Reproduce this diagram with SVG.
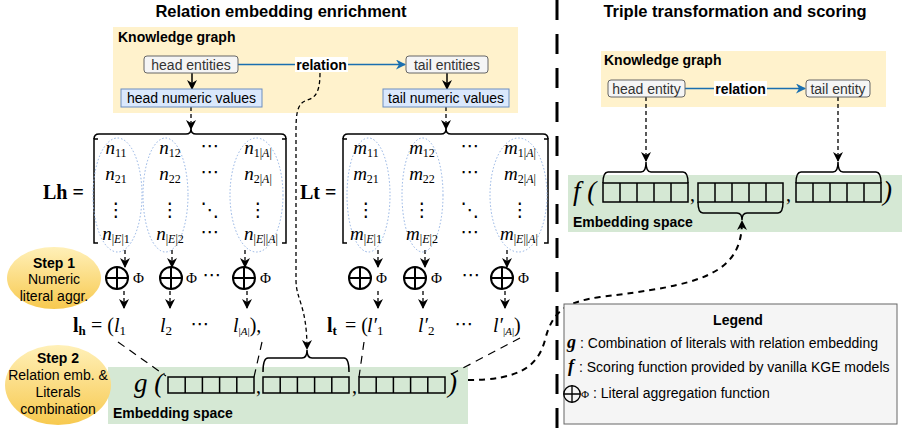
<svg xmlns="http://www.w3.org/2000/svg" width="902" height="430" viewBox="0 0 902 430">
<style>
.sans{font-family:"Liberation Sans",Arial,sans-serif;font-size:14px;fill:#000}
.b{font-weight:bold}
.ent{fill:#f5f5f5;stroke:#666;stroke-width:1}
.entt{font-family:"Liberation Sans",Arial,sans-serif;font-size:14px;fill:#333}
.num{fill:#dae8fc;stroke:#6c8ebf;stroke-width:1}
.m{font-family:"Liberation Serif","DejaVu Serif",serif;font-style:italic;font-size:19px;fill:#000}
.sb{font-style:normal;font-size:12px}
.it{font-style:italic}
.dots{font-family:"DejaVu Sans",sans-serif;font-size:19px;fill:#000}
.mb{font-family:"Liberation Serif","DejaVu Serif",serif;font-weight:bold;font-size:20px;fill:#000}
.phi{font-family:"Liberation Serif","DejaVu Serif",serif;font-size:15px;fill:#000}
.big{font-family:"Liberation Serif","DejaVu Serif",serif;font-style:italic;font-size:27px;fill:#000}
.ell{fill:none;stroke:#8fb0e3;stroke-width:1;stroke-dasharray:1.5 2}
.br{fill:none;stroke:#000;stroke-width:1.5}
.vec{fill:none;stroke:#000;stroke-width:1.5}
.op{fill:none;stroke:#000;stroke-width:2}
.da{fill:none;stroke:#000;stroke-width:1.3;stroke-dasharray:4 3}
.ld{fill:none;stroke:#000;stroke-width:1.2;stroke-dasharray:8 6}
.blue{fill:none;stroke:#1a6fb0;stroke-width:1.5}
</style>
<defs>
<marker id="ah" markerWidth="10" markerHeight="10" refX="9" refY="5" orient="auto" markerUnits="userSpaceOnUse">
<path d="M0,0 L10,5 L0,10 L3,5 z" fill="#000"/>
</marker>
<marker id="ahb" markerWidth="10" markerHeight="10" refX="9" refY="5" orient="auto" markerUnits="userSpaceOnUse">
<path d="M0,0 L10,5 L0,10 L3,5 z" fill="#1a6fb0"/>
</marker>
<linearGradient id="stepg" x1="0" y1="0" x2="0" y2="1">
<stop offset="0" stop-color="#fff0b8"/>
<stop offset="1" stop-color="#f7c94f"/>
</linearGradient>
<g id="oplus"><circle cx="0" cy="0" r="11" class="op"/><path d="M-11,0 H11 M0,-11 V11" class="op"/></g>
</defs>

<!-- titles -->
<text class="sans b" x="281" y="17" text-anchor="middle" style="font-size:16.5px">Relation embedding enrichment</text>
<text class="sans b" x="735" y="17" text-anchor="middle" style="font-size:16.5px">Triple transformation and scoring</text>

<!-- separator -->
<line x1="557" y1="0" x2="557" y2="430" stroke="#000" stroke-width="3" stroke-dasharray="20 14"/>

<!-- left knowledge graph -->
<g id="kg-left">
<rect x="113" y="27" width="405" height="86" fill="#fff2cc"/>
<text class="sans b" x="118" y="42">Knowledge graph</text>
</g>
<g id="kg-right">
<rect x="601" y="51" width="285" height="56" fill="#fff2cc"/>
<text class="sans b" x="604" y="65">Knowledge graph</text>
</g>
<g id="emb-left">
<rect x="108" y="367" width="360" height="57" fill="#d5e8d4"/>
<text class="sans b" x="113" y="418">Embedding space</text>
</g>
<g id="emb-right">
<rect x="568" y="175" width="334" height="57" fill="#d5e8d4"/>
<text class="sans b" x="573" y="227">Embedding space</text>
</g>

<!-- connectors -->
<g id="connectors">
<line x1="238" y1="64.5" x2="405" y2="64.5" class="blue" marker-end="url(#ahb)"/>
<line x1="685" y1="88.5" x2="805" y2="88.5" class="blue" marker-end="url(#ahb)"/>
<line x1="192" y1="73" x2="192" y2="89" stroke="#000" stroke-width="1.5" marker-end="url(#ah)"/>
<line x1="447" y1="73" x2="447" y2="89" stroke="#000" stroke-width="1.5" marker-end="url(#ah)"/>
<line x1="191" y1="107" x2="191" y2="129" class="da" marker-end="url(#ah)"/>
<line x1="446" y1="107" x2="446" y2="129" class="da" marker-end="url(#ah)"/>
<path d="M320,73 C320,98 312,98 305,101 C298,104 296,112 296,130 L296,280 C296,300 307,305 307,349" class="da" marker-end="url(#ah)"/>
<line x1="646" y1="97" x2="646" y2="161" class="da" marker-end="url(#ah)"/>
<line x1="838" y1="97" x2="838" y2="161" class="da" marker-end="url(#ah)"/>
<!-- matrix to aggregation -->
<line x1="125" y1="250" x2="125" y2="267" class="da" marker-end="url(#ah)"/>
<line x1="172" y1="250" x2="172" y2="267" class="da" marker-end="url(#ah)"/>
<line x1="245" y1="250" x2="245" y2="267" class="da" marker-end="url(#ah)"/>
<line x1="378" y1="250" x2="378" y2="267" class="da" marker-end="url(#ah)"/>
<line x1="425" y1="250" x2="425" y2="267" class="da" marker-end="url(#ah)"/>
<line x1="507" y1="250" x2="507" y2="267" class="da" marker-end="url(#ah)"/>
<line x1="124" y1="291" x2="124" y2="308" class="da" marker-end="url(#ah)"/>
<line x1="170" y1="291" x2="170" y2="308" class="da" marker-end="url(#ah)"/>
<line x1="247" y1="291" x2="247" y2="308" class="da" marker-end="url(#ah)"/>
<line x1="378" y1="291" x2="378" y2="308" class="da" marker-end="url(#ah)"/>
<line x1="423" y1="291" x2="423" y2="308" class="da" marker-end="url(#ah)"/>
<line x1="505" y1="291" x2="505" y2="308" class="da" marker-end="url(#ah)"/>
<!-- literal rows to g vectors -->
<line x1="118" y1="342" x2="166" y2="376" class="ld"/>
<line x1="262" y1="342" x2="254" y2="377" class="ld"/>
<line x1="364" y1="342" x2="359" y2="377" class="ld"/>
<line x1="520" y1="338" x2="446" y2="377" class="ld"/>
<!-- g to f -->
<path d="M468,380 C520,380 538,366 545,340 C552,312 565,302 600,297 C700,285 742,275 742,221" fill="none" stroke="#000" stroke-width="2" stroke-dasharray="6 5" marker-end="url(#ah)"/>
</g>

<!-- entity nodes -->
<g id="head-entities"><rect x="144" y="56" width="94" height="17" rx="3" class="ent"/><text class="entt" x="191" y="69.5" text-anchor="middle">head entities</text></g>
<g id="tail-entities"><rect x="406" y="56" width="82" height="17" rx="3" class="ent"/><text class="entt" x="447" y="69.5" text-anchor="middle">tail entities</text></g>
<g id="relation-left"><rect x="295" y="57" width="53" height="15" fill="#fff"/><text class="sans b" x="321.5" y="69.5" text-anchor="middle">relation</text></g>
<g id="head-numeric"><rect x="121" y="89" width="141" height="18" class="num"/><text class="sans" x="191.5" y="103" text-anchor="middle">head numeric values</text></g>
<g id="tail-numeric"><rect x="383" y="89" width="126" height="18" class="num"/><text class="sans" x="446" y="103" text-anchor="middle">tail numeric values</text></g>

<g id="head-entity"><rect x="608" y="80" width="77" height="17" rx="3" class="ent"/><text class="entt" x="646.5" y="93.5" text-anchor="middle">head entity</text></g>
<g id="tail-entity"><rect x="806" y="80" width="64" height="17" rx="3" class="ent"/><text class="entt" x="838" y="93.5" text-anchor="middle">tail entity</text></g>
<g id="relation-right"><rect x="714" y="81" width="53" height="15" fill="#fff"/><text class="sans b" x="740.5" y="93.5" text-anchor="middle">relation</text></g>

<!-- Lh matrix -->
<g id="matrix-lh">
<path d="M94,139 Q94,134 99,134 L186,134 Q191,134 191,129 Q191,134 196,134 L281,134 Q286,134 286,139" class="br"/>
<path d="M98,139 H94 V243 H98" class="br"/>
<path d="M282,139 H286 V243 H282" class="br"/>
<ellipse cx="117.5" cy="195" rx="24.5" ry="57" class="ell"/>
<ellipse cx="165.5" cy="195" rx="22.5" ry="57" class="ell"/>
<ellipse cx="256.5" cy="195" rx="26.5" ry="57" class="ell"/>
<text class="mb" x="43" y="199">Lh =</text>
<text class="m" x="116" y="154" text-anchor="middle">n<tspan class="sb" dy="3">11</tspan></text>
<text class="m" x="170" y="154" text-anchor="middle">n<tspan class="sb" dy="3">12</tspan></text>
<text class="dots" x="210" y="152" text-anchor="middle">⋯</text>
<text class="m" x="258" y="154" text-anchor="middle">n<tspan class="sb" dy="3">1|<tspan class="it">A</tspan>|</tspan></text>
<text class="m" x="116" y="180" text-anchor="middle">n<tspan class="sb" dy="3">21</tspan></text>
<text class="m" x="170" y="180" text-anchor="middle">n<tspan class="sb" dy="3">22</tspan></text>
<text class="dots" x="210" y="178" text-anchor="middle">⋯</text>
<text class="m" x="258" y="180" text-anchor="middle">n<tspan class="sb" dy="3">2|<tspan class="it">A</tspan>|</tspan></text>
<text class="dots" x="116" y="216" text-anchor="middle">⋮</text>
<text class="dots" x="170" y="216" text-anchor="middle">⋮</text>
<text class="dots" x="210" y="216" text-anchor="middle">⋱</text>
<text class="dots" x="258" y="216" text-anchor="middle">⋮</text>
<text class="m" x="116" y="240" text-anchor="middle">n<tspan class="sb" dy="3">|<tspan class="it">E</tspan>|1</tspan></text>
<text class="m" x="170" y="240" text-anchor="middle">n<tspan class="sb" dy="3">|<tspan class="it">E</tspan>|2</tspan></text>
<text class="dots" x="210" y="238" text-anchor="middle">⋯</text>
<text class="m" x="261" y="240" text-anchor="middle">n<tspan class="sb" dy="3">|<tspan class="it">E</tspan>||<tspan class="it">A</tspan>|</tspan></text>
</g>

<!-- Lt matrix -->
<g id="matrix-lt">
<path d="M343,139 Q343,134 348,134 L441,134 Q446,134 446,129 Q446,134 451,134 L543,134 Q548,134 548,139" class="br"/>
<path d="M347,139 H343 V243 H347" class="br"/>
<path d="M544,139 H548 V243 H544" class="br"/>
<ellipse cx="368.5" cy="195" rx="21.5" ry="57" class="ell"/>
<ellipse cx="422.5" cy="195" rx="20.5" ry="57" class="ell"/>
<ellipse cx="518.5" cy="195" rx="28.5" ry="57" class="ell"/>
<text class="mb" x="300" y="199">Lt =</text>
<text class="m" x="366" y="154" text-anchor="middle">m<tspan class="sb" dy="3">11</tspan></text>
<text class="m" x="422" y="154" text-anchor="middle">m<tspan class="sb" dy="3">12</tspan></text>
<text class="dots" x="470" y="152" text-anchor="middle">⋯</text>
<text class="m" x="520" y="154" text-anchor="middle">m<tspan class="sb" dy="3">1|<tspan class="it">A</tspan>|</tspan></text>
<text class="m" x="366" y="180" text-anchor="middle">m<tspan class="sb" dy="3">21</tspan></text>
<text class="m" x="422" y="180" text-anchor="middle">m<tspan class="sb" dy="3">22</tspan></text>
<text class="dots" x="470" y="178" text-anchor="middle">⋯</text>
<text class="m" x="520" y="180" text-anchor="middle">m<tspan class="sb" dy="3">2|<tspan class="it">A</tspan>|</tspan></text>
<text class="dots" x="366" y="216" text-anchor="middle">⋮</text>
<text class="dots" x="422" y="216" text-anchor="middle">⋮</text>
<text class="dots" x="470" y="216" text-anchor="middle">⋱</text>
<text class="dots" x="520" y="216" text-anchor="middle">⋮</text>
<text class="m" x="366" y="240" text-anchor="middle">m<tspan class="sb" dy="3">|<tspan class="it">E</tspan>|1</tspan></text>
<text class="m" x="422" y="240" text-anchor="middle">m<tspan class="sb" dy="3">|<tspan class="it">E</tspan>|2</tspan></text>
<text class="dots" x="470" y="238" text-anchor="middle">⋯</text>
<text class="m" x="519" y="240" text-anchor="middle">m<tspan class="sb" dy="3">|<tspan class="it">E</tspan>||<tspan class="it">A</tspan>|</tspan></text>
</g>

<!-- aggregation -->
<g id="agg-h">
<use href="#oplus" x="117" y="278"/><text class="phi" x="133" y="283">Φ</text>
<use href="#oplus" x="171" y="278"/><text class="phi" x="186" y="283">Φ</text>
<text class="dots" x="212" y="281" text-anchor="middle">⋯</text>
<use href="#oplus" x="244" y="278"/><text class="phi" x="260" y="283">Φ</text>
</g>
<g id="agg-t">
<use href="#oplus" x="360" y="278"/><text class="phi" x="376" y="283">Φ</text>
<use href="#oplus" x="415" y="278"/><text class="phi" x="431" y="283">Φ</text>
<text class="dots" x="471" y="281" text-anchor="middle">⋯</text>
<use href="#oplus" x="502" y="278"/><text class="phi" x="518" y="283">Φ</text>
</g>

<!-- literal vectors -->
<g id="lh-row">
<text class="mb" x="73" y="332">l<tspan dy="3" style="font-size:13px">h</tspan></text>
<text class="m" x="91" y="332" style="font-style:normal;font-size:20px">= (</text>
<text class="m" x="114" y="332" style="font-size:20px">l<tspan class="sb" dy="3" style="font-size:13px">1</tspan></text>
<text class="m" x="160" y="332" style="font-size:20px">l<tspan class="sb" dy="3" style="font-size:13px">2</tspan></text>
<text class="dots" x="200" y="330" text-anchor="middle">⋯</text>
<text class="m" x="233" y="332" style="font-size:20px">l<tspan class="sb" dy="3" style="font-size:11px">|<tspan class="it">A</tspan>|</tspan><tspan dy="-3" style="font-style:normal">),</tspan></text>
</g>
<g id="lt-row">
<text class="mb" x="327" y="332">l<tspan dy="3" style="font-size:13px">t</tspan></text>
<text class="m" x="345" y="332" style="font-style:normal;font-size:20px">= (</text>
<text class="m" x="367" y="332" style="font-size:20px">l′<tspan class="sb" dy="3" style="font-size:13px">1</tspan></text>
<text class="m" x="418" y="332" style="font-size:20px">l′<tspan class="sb" dy="3" style="font-size:13px">2</tspan></text>
<text class="dots" x="464" y="330" text-anchor="middle">⋯</text>
<text class="m" x="493" y="332" style="font-size:20px">l′<tspan class="sb" dy="3" style="font-size:11px">|<tspan class="it">A</tspan>|</tspan><tspan dy="-3" style="font-style:normal">)</tspan></text>
</g>

<!-- g combination -->
<g id="g-combination">
<text class="big" x="134" y="392">g (</text>
<path d="M263,372 Q263,358 268,358 L302,358 Q307,358 307,350 Q307,358 312,358 L344,358 Q349,358 349,372" class="br"/>
<g class="vec">
<rect x="168" y="377" width="86" height="16"/><path d="M185.2,377 V393 M202.4,377 V393 M219.6,377 V393 M236.8,377 V393"/>
<rect x="263" y="377" width="86" height="16"/><path d="M280.2,377 V393 M297.4,377 V393 M314.6,377 V393 M331.8,377 V393"/>
<rect x="359" y="377" width="86" height="16"/><path d="M376.2,377 V393 M393.4,377 V393 M410.6,377 V393 M427.8,377 V393"/>
</g>
<text class="big" x="256" y="393" style="font-style:normal;font-size:20px">,</text>
<text class="big" x="352" y="393" style="font-style:normal;font-size:20px">,</text>
<text class="big" x="448" y="392">)</text>
</g>

<!-- f scoring -->
<g id="f-scoring">
<text class="big" x="573" y="200">f (</text>
<path d="M603,183 Q603,172 608,172 L641,172 Q646,172 646,162 Q646,172 651,172 L683,172 Q688,172 688,183" class="br"/>
<path d="M796,183 Q796,172 801,172 L833,172 Q838,172 838,162 Q838,172 843,172 L876,172 Q881,172 881,183" class="br"/>
<path d="M698,202 Q698,213 703,213 L737,213 Q742,213 742,220 Q742,213 747,213 L778,213 Q783,213 783,202" class="br"/>
<g class="vec">
<rect x="603" y="183" width="85" height="19"/><path d="M620,183 V202 M637,183 V202 M654,183 V202 M671,183 V202"/>
<rect x="698" y="183" width="85" height="19"/><path d="M715,183 V202 M732,183 V202 M749,183 V202 M766,183 V202"/>
<rect x="796" y="183" width="85" height="19"/><path d="M813,183 V202 M830,183 V202 M847,183 V202 M864,183 V202"/>
</g>
<text class="big" x="690" y="201" style="font-style:normal;font-size:20px">,</text>
<text class="big" x="786" y="201" style="font-style:normal;font-size:20px">,</text>
<text class="big" x="883" y="200">)</text>
</g>

<!-- steps -->
<g id="step1">
<ellipse cx="54" cy="278" rx="47" ry="31" fill="url(#stepg)"/>
<text class="sans b" x="54" y="268" text-anchor="middle">Step 1</text>
<text class="sans" x="54" y="284" text-anchor="middle">Numeric</text>
<text class="sans" x="54" y="301" text-anchor="middle">literal aggr.</text>
</g>
<g id="step2">
<ellipse cx="58" cy="385" rx="53" ry="40" fill="url(#stepg)"/>
<text class="sans b" x="58" y="363" text-anchor="middle">Step 2</text>
<text class="sans" x="58" y="380" text-anchor="middle">Relation emb. &amp;</text>
<text class="sans" x="58" y="397" text-anchor="middle">Literals</text>
<text class="sans" x="58" y="414" text-anchor="middle">combination</text>
</g>

<!-- legend -->
<g id="legend">
<rect x="564" y="304" width="333" height="120" fill="#f5f5f5" stroke="#666" stroke-width="1"/>
<text class="sans b" x="738" y="325" text-anchor="middle">Legend</text>
<text x="567" y="348" style="font-family:'Liberation Serif',serif;font-style:italic;font-weight:bold;font-size:18px">g</text>
<text class="sans" x="580" y="348">: Combination of literals with relation embedding</text>
<text x="568" y="372" style="font-family:'Liberation Serif',serif;font-style:italic;font-weight:bold;font-size:18px">f</text>
<text class="sans" x="579" y="372">: Scoring function provided by vanilla KGE models</text>
<g transform="translate(572,394) scale(0.75)"><circle r="11" fill="none" stroke="#000" stroke-width="1.8"/><path d="M-11,0 H11 M0,-11 V11" stroke="#000" stroke-width="1.8"/></g>
<text class="phi" x="581" y="398" style="font-size:11px">Φ</text>
<text class="sans" x="593" y="398">: Literal aggregation function</text>
</g>
</svg>
